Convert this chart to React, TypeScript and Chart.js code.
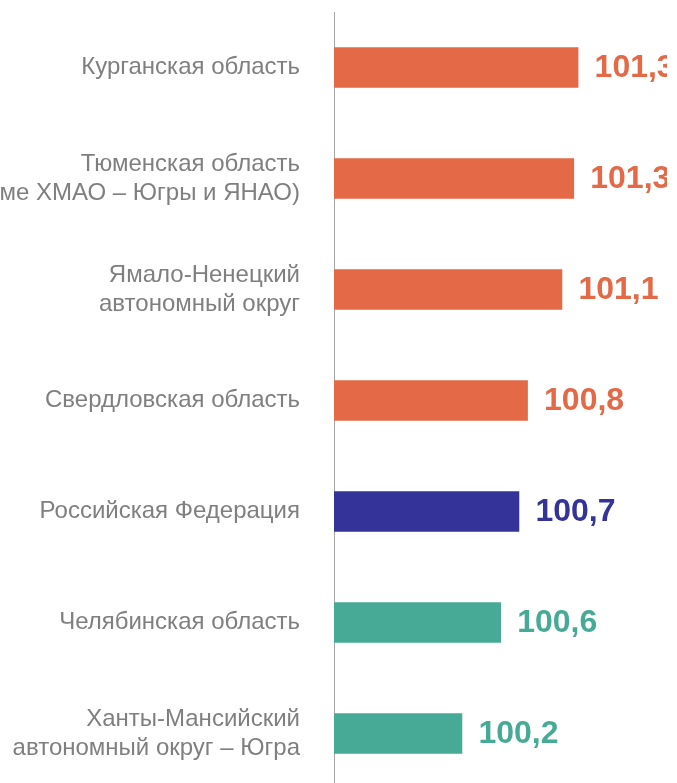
import React, { useEffect, useRef } from "react";
import { Chart, registerables } from "chart.js";

Chart.register(...registerables);

const categories: (string | string[])[] = [
  "Курганская область",
  ["Тюменская область", "(кроме ХМАО – Югры и ЯНАО)"],
  ["Ямало-Ненецкий", "автономный округ"],
  "Свердловская область",
  "Российская Федерация",
  "Челябинская область",
  ["Ханты-Мансийский", "автономный округ – Югра"],
];

const values = [101.27, 101.23, 101.12, 100.8, 100.72, 100.55, 100.19];
const valueLabels = ["101,3", "101,3", "101,1", "100,8", "100,7", "100,6", "100,2"];

const ORANGE = "#E36947";
const NAVY = "#343399";
const TEAL = "#47AA96";
const barColors = [ORANGE, ORANGE, ORANGE, ORANGE, NAVY, TEAL, TEAL];

const FONT = "'Liberation Sans', Arial, sans-serif";

const valueLabelPlugin = {
  id: "valueLabels",
  afterDatasetsDraw(chart: any) {
    const ctx = chart.ctx;
    const meta = chart.getDatasetMeta(0);
    ctx.save();
    ctx.beginPath();
    ctx.rect(0, 0, chart.chartArea.right - 10, chart.height);
    ctx.clip();
    ctx.font = `bold 32px ${FONT}`;
    ctx.textAlign = "left";
    ctx.textBaseline = "middle";
    meta.data.forEach((bar: any, i: number) => {
      ctx.fillStyle = barColors[i];
      ctx.fillText(valueLabels[i], bar.x + 16.5, bar.y + 1);
    });
    ctx.restore();
  },
};

export default function App() {
  const ref = useRef<HTMLCanvasElement>(null);
  useEffect(() => {
    if (!ref.current) return;
    const chart = new Chart(ref.current, {
      type: "bar",
      data: {
        labels: categories,
        datasets: [
          {
            data: values,
            backgroundColor: barColors,
            barThickness: 40,
            borderWidth: 0,
          },
        ],
      },
      options: {
        indexAxis: "y",
        animation: false,
        responsive: true,
        maintainAspectRatio: false,
        layout: { padding: { top: 12, bottom: 11, left: 0, right: 0 } },
        plugins: {
          legend: { display: false },
          tooltip: { enabled: false },
        },
        scales: {
          x: {
            display: false,
            min: 99,
            max: 102.19,
          },
          y: {
            afterFit: (scale: any) => {
              scale.width = 334;
              scale.paddingTop = 0;
              scale.paddingBottom = 0;
            },
            grid: { display: false, drawTicks: false },
            border: { display: true, color: "#a6a6a6", width: 1 },
            ticks: {
              padding: 34,
              color: "#7f7f7f",
              font: { family: FONT, size: 24, lineHeight: 1.2 },
            },
          },
        },
      },
      plugins: [valueLabelPlugin],
    });
    return () => chart.destroy();
  }, []);

  return (
    <div
      style={{
        position: "fixed",
        left: 0,
        top: 0,
        width: 677,
        height: 783,
        overflow: "hidden",
        background: "#fff",
      }}
    >
      <div style={{ position: "relative", width: 677, height: 800 }}>
        <canvas ref={ref} />
      </div>
    </div>
  );
}
